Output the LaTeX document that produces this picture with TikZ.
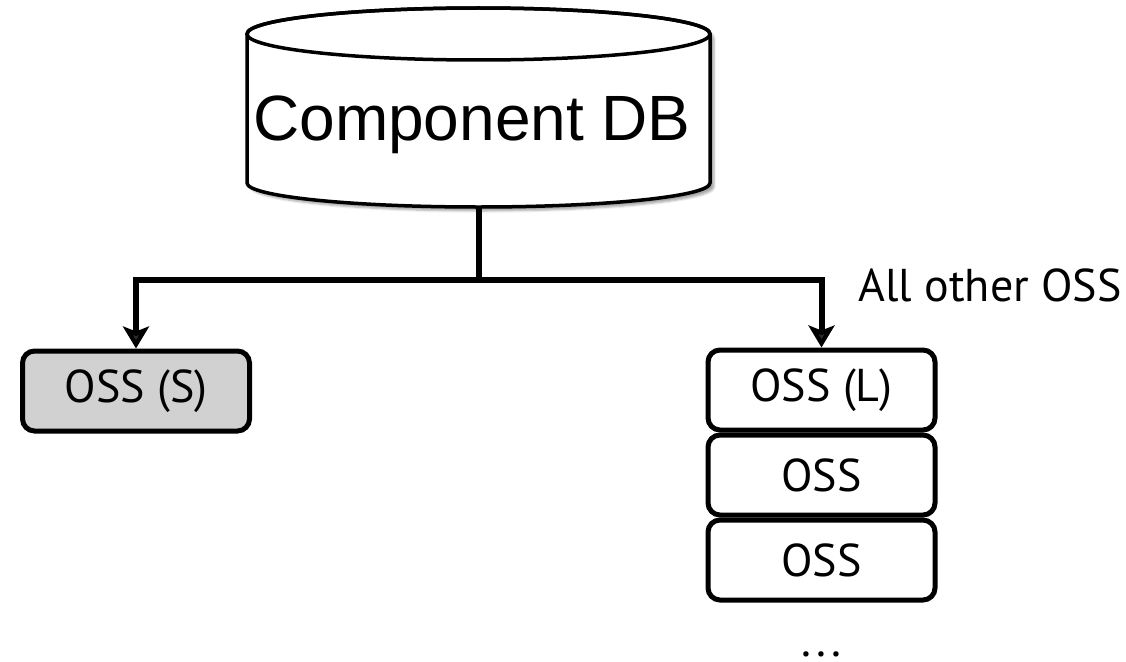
\documentclass[tikz,border=0pt]{standalone}
\usepackage{fontspec}
\setmainfont{Liberation Sans}
\newfontfamily\labelfont{PT Sans}
\usepackage{tikz}
\usetikzlibrary{positioning,arrows.meta,shadows.blur}

\tikzset{
  ossbox/.style={draw, line width=5pt, rounded corners=12pt,
    minimum width=227pt, minimum height=80pt, inner sep=0pt,
    font=\labelfont\fontsize{46}{50}\selectfont},
  wire/.style={line width=6pt},
  feed/.style={wire, -{Stealth[length=22pt,width=26pt,inset=5pt]}}
}

\begin{document}
\begin{tikzpicture}[x=1pt,y=-1pt]
  \useasboundingbox (0,0) rectangle (1126,661);

  % database cylinder
  \draw[line width=3.5pt, fill=white,
    blur shadow={shadow xshift=4pt, shadow yshift=-4pt, shadow opacity=35}]
  (247,34) -- (247,183)
  arc[start angle=180, end angle=0, x radius=231.5, y radius=24]
  -- (710,34)
  arc[start angle=0, end angle=-180, x radius=231.5, y radius=26]
  -- cycle
  ;
  \draw[line width=3.5pt] (478.5,34) ellipse[x radius=231.5, y radius=26];
  \node[font=\fontsize{64}{66}\selectfont] (db) at (472,125) {Component DB};
  \coordinate (dbfoot) at (478.5,207);
  \coordinate (fork) at (478.5,280);

  % storage servers
  \node[ossbox, fill=black!18] (oss-s) at (136,391) {OSS (S)};
  \node[ossbox] (oss-l) at (821.5,390) {OSS (L)};
  \node[ossbox, below=0pt of oss-l] (oss-b) {OSS};
  \node[ossbox, below=0pt of oss-b] (oss-c) {OSS};
  \node[font=\labelfont\fontsize{46}{50}\selectfont, anchor=base, inner sep=0pt] (more) at (821.5,656) {.\kern5pt.\kern5pt.};
  \node[font=\labelfont\fontsize{46}{50}\selectfont, anchor=base west] (other) at (855,301) {All other OSS};

  \draw[wire] (dbfoot) -- (fork);
  \draw[feed] (fork) -| (oss-s.north);
  \draw[feed] (fork) -| (oss-l.north);
\end{tikzpicture}
\end{document}
